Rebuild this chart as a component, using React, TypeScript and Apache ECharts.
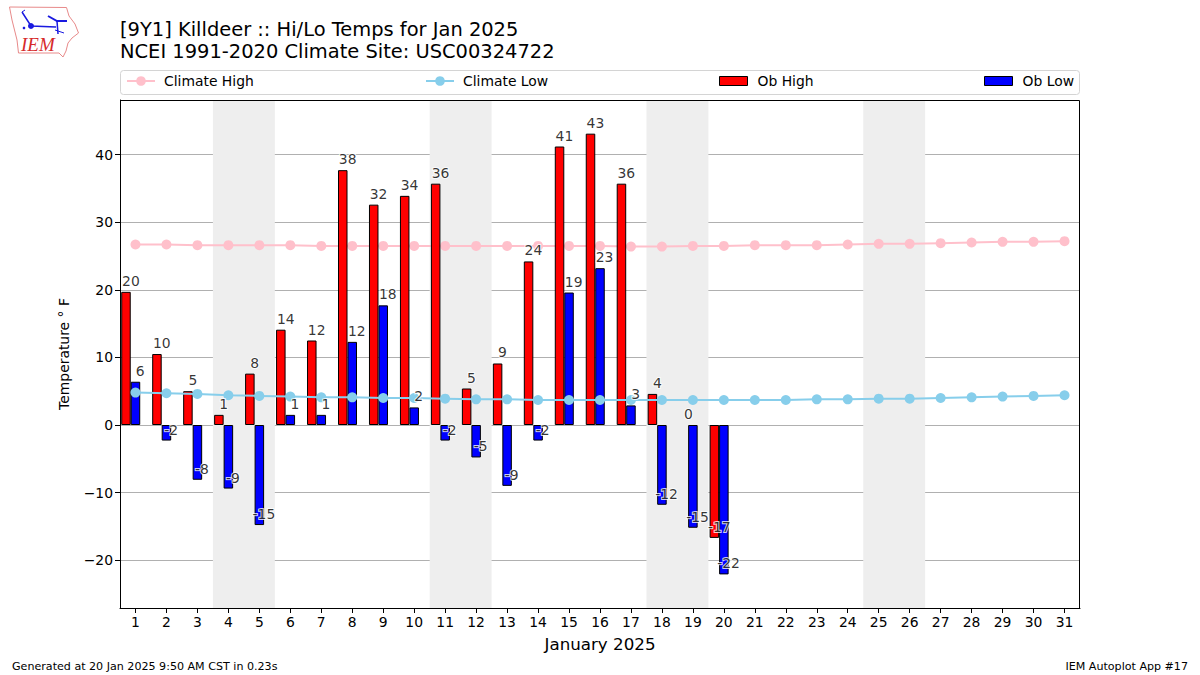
import React, { useEffect, useRef } from "react";
import * as echarts from "echarts";

const days = Array.from({ length: 31 }, (_, i) => String(i + 1));
const climateHigh = [26.7, 26.7, 26.6, 26.6, 26.6, 26.6, 26.5, 26.5, 26.5, 26.5, 26.5, 26.5, 26.5, 26.5, 26.5, 26.5, 26.4, 26.4, 26.5, 26.5, 26.6, 26.6, 26.6, 26.7, 26.8, 26.8, 26.9, 27.0, 27.1, 27.1, 27.2];
const climateLow = [4.8, 4.7, 4.6, 4.4, 4.3, 4.2, 4.1, 4.1, 4.0, 4.0, 3.9, 3.8, 3.8, 3.7, 3.7, 3.7, 3.7, 3.7, 3.7, 3.7, 3.7, 3.7, 3.8, 3.8, 3.9, 3.9, 4.0, 4.1, 4.2, 4.3, 4.4];
const obHigh = [19.7, 10.5, 5.0, 1.5, 7.6, 14.1, 12.5, 37.7, 32.6, 33.9, 35.7, 5.4, 9.1, 24.2, 41.2, 43.1, 35.7, 4.6, null, -16.7];
const obLow = [6.4, -2.3, -8.1, -9.4, -14.8, 1.5, 1.5, 12.3, 17.7, 2.6, -2.3, -4.8, -9.0, -2.3, 19.6, 23.2, 2.9, -11.8, -15.2, -22.1];
const highLabels = [20, 10, 5, 1, 8, 14, 12, 38, 32, 34, 36, 5, 9, 24, 41, 43, 36, 4, 0, -17];
const lowLabels = [6, -2, -8, -9, -15, 1, 1, 12, 18, 2, -2, -5, -9, -2, 19, 23, 3, -12, -15, -22];
const yTicks = [-20, -10, 0, 10, 20, 30, 40];
const weekends: [number, number][] = [[3.5, 5.5], [10.5, 12.5], [17.5, 19.5], [24.5, 26.5]];

const FONT = "DejaVu Sans";
const iowa = [[9.5, 7], [66.5, 7.5], [69, 16], [75, 24], [78.5, 33], [72, 38], [68, 43], [66, 51], [63, 57], [59, 53], [18.5, 53], [17, 40], [12, 20]];

export default function App() {
  const ref = useRef<HTMLDivElement>(null);
  useEffect(() => {
    const chart = echarts.init(ref.current!, undefined, { renderer: "svg" });
    const labelStyle = {
      show: true,
      position: "top" as const,
      distance: 4,
      fontFamily: FONT,
      fontSize: 13.9,
      color: "#000",
      textBorderColor: "#fff",
      textBorderWidth: 2,
    };
    const legendBase = { top: 74, padding: 0, itemWidth: 28, itemGap: 10 };
    const legendText = (pad: number) => ({ fontFamily: FONT, fontSize: 13.9, color: "#000", padding: [0, 0, 0, pad] });
    chart.setOption({
      animation: false,
      backgroundColor: "#fff",
      title: {
        text: "[9Y1] Killdeer :: Hi/Lo Temps for Jan 2025\nNCEI 1991-2020 Climate Site: USC00324722",
        left: 120,
        top: 18,
        padding: 0,
        textStyle: { fontFamily: FONT, fontSize: 19.45, fontWeight: "normal", color: "#000", lineHeight: 22 },
      },
      legend: [
        { ...legendBase, left: 126, data: ["Climate High"], itemHeight: 12, textStyle: legendText(4) },
        { ...legendBase, left: 425, data: ["Climate Low"], itemHeight: 12, textStyle: legendText(4) },
        { ...legendBase, left: 719, data: [{ name: "Ob High", icon: "rect" }], itemHeight: 9, textStyle: legendText(5), itemStyle: { borderColor: "#000", borderWidth: 1 } },
        { ...legendBase, left: 984, data: [{ name: "Ob Low", icon: "rect" }], itemHeight: 9, textStyle: legendText(5), itemStyle: { borderColor: "#000", borderWidth: 1 } },
      ],
      grid: { left: 120, top: 100, width: 960, height: 508, containLabel: false },
      xAxis: [
        {
          type: "category",
          data: days,
          name: "January 2025",
          nameLocation: "middle",
          nameGap: 27,
          nameTextStyle: { fontFamily: FONT, fontSize: 16.7, color: "#000" },
          axisLine: { onZero: false, lineStyle: { color: "#000", width: 1 } },
          axisTick: { show: true, alignWithLabel: true, length: 5, lineStyle: { color: "#000", width: 1 } },
          axisLabel: { interval: 0, fontFamily: FONT, fontSize: 13.9, color: "#000", margin: 7 },
        },
        { type: "value", min: 0.5, max: 31.5, show: false, splitLine: { show: false } },
      ],
      yAxis: {
        type: "value",
        min: -27.07,
        max: 48.08,
        name: "Temperature ° F",
        nameLocation: "middle",
        nameGap: 49,
        nameTextStyle: { fontFamily: FONT, fontSize: 13.9, color: "#000" },
        axisLine: { show: true, lineStyle: { color: "#000" } },
        axisTick: { show: true, length: 5, customValues: yTicks, lineStyle: { color: "#000", width: 1 } },
        axisLabel: { customValues: yTicks, fontFamily: FONT, fontSize: 13.9, color: "#000", margin: 7, formatter: (v: number) => String(v).replace("-", "\u2212") },
        splitLine: { show: true, lineStyle: { color: "#b0b0b0", width: 1 } },
      },
      series: [
        {
          type: "line",
          name: "shade",
          xAxisIndex: 1,
          data: [],
          z: -1,
          silent: true,
          markArea: {
            silent: true,
            itemStyle: { color: "#eeeeee" },
            data: weekends.map(([a, b]) => [{ xAxis: a }, { xAxis: b }]),
          },
        },
        {
          type: "line",
          name: "Climate High",
          data: climateHigh,
          z: 1,
          symbol: "circle",
          symbolSize: 10,
          lineStyle: { color: "#ffc0cb", width: 2 },
          itemStyle: { color: "#ffc0cb" },
        },
        {
          type: "bar",
          name: "Ob High",
          data: obHigh,
          barWidth: 9.5,
          barGap: 0,
          z: 2,
          itemStyle: { color: "#ff0000", borderColor: "#000", borderWidth: 1 },
        },
        {
          type: "bar",
          name: "Ob Low",
          data: obLow,
          barWidth: 9.5,
          barGap: 0,
          z: 2,
          itemStyle: { color: "#0000ff", borderColor: "#000", borderWidth: 1 },
        },
        {
          type: "bar",
          name: "spacer",
          data: [],
          barWidth: 9.5,
          barGap: 0,
          z: 2,
        },
        {
          type: "line",
          name: "Climate Low",
          data: climateLow,
          z: 3,
          symbol: "circle",
          symbolSize: 10,
          lineStyle: { color: "#87ceeb", width: 2 },
          itemStyle: { color: "#87ceeb" },
        },
        {
          type: "scatter",
          name: "highLabels",
          z: 5,
          symbolSize: 0,
          silent: true,
          data: highLabels.map((v, i) => ({
            value: [i, obHigh[i] ?? 0],
            label: { ...labelStyle, offset: [-4.6, 0], formatter: String(v) },
          })),
        },
        {
          type: "scatter",
          name: "lowLabels",
          z: 5,
          symbolSize: 0,
          silent: true,
          data: lowLabels.map((v, i) => ({
            value: [i, obLow[i]],
            label: { ...labelStyle, offset: [4.6, 0], formatter: String(v) },
          })),
        },
      ],
      graphic: [
        { type: "rect", z: 20, shape: { x: 120.5, y: 100.5, width: 959, height: 508 }, style: { fill: "none", stroke: "#000", lineWidth: 1 } },
        { type: "rect", z: 0, shape: { x: 120.5, y: 70.5, width: 959, height: 24, r: 3 }, style: { fill: "#fff", stroke: "#d4d4d4", lineWidth: 1 } },
        { type: "polygon", z: 20, shape: { points: iowa }, style: { fill: "#fff", stroke: "#e88a8a", lineWidth: 1 } },
        { type: "polyline", z: 21, shape: { points: [[22, 12], [31, 26], [56, 27]] }, style: { fill: "none", stroke: "#1a1ae0", lineWidth: 1.5 } },
        { type: "polyline", z: 21, shape: { points: [[22, 12], [25, 10]] }, style: { fill: "none", stroke: "#1a1ae0", lineWidth: 1 } },
        { type: "polyline", z: 21, shape: { points: [[48, 16], [57, 21], [67, 21]] }, style: { fill: "none", stroke: "#1a1ae0", lineWidth: 2 } },
        { type: "polyline", z: 21, shape: { points: [[57, 21], [58, 34]] }, style: { fill: "none", stroke: "#1a1ae0", lineWidth: 1.5 } },
        { type: "polyline", z: 21, shape: { points: [[55, 30], [64, 33]] }, style: { fill: "none", stroke: "#1a1ae0", lineWidth: 1 } },
        { type: "circle", z: 21, shape: { cx: 31, cy: 26, r: 3 }, style: { fill: "#1a1ae0" } },
        { type: "circle", z: 21, shape: { cx: 24, cy: 28, r: 1.3 }, style: { fill: "#1a1ae0" } },
        { type: "text", z: 21, x: 21, y: 35, style: { text: "IEM", fontFamily: "Liberation Serif", fontStyle: "italic", fontSize: 19, fill: "#d62a2a" } },
        { type: "text", z: 21, x: 12, y: 661, style: { text: "Generated at 20 Jan 2025 9:50 AM CST in 0.23s", fontFamily: FONT, fontSize: 11.1, fill: "#000" } },
        { type: "text", z: 21, x: 1188, y: 661, style: { text: "IEM Autoplot App #17", fontFamily: FONT, fontSize: 11.1, fill: "#000", align: "right" } },
      ],
    });
    return () => chart.dispose();
  }, []);
  return <div ref={ref} style={{ position: "fixed", left: 0, top: 0, width: 1200, height: 675 }} />;
}
